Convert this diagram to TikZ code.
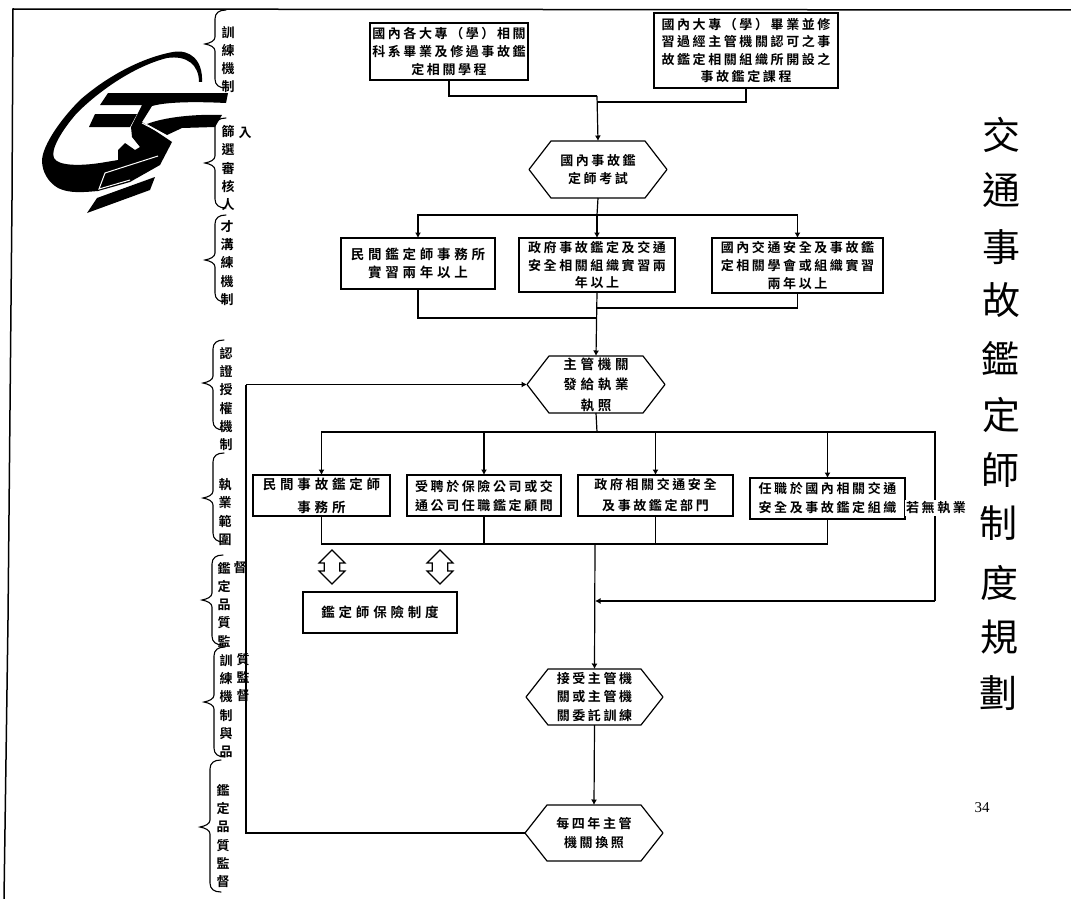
\documentclass[tikz,border=0pt]{standalone}
\usepackage{fontspec}
\usetikzlibrary{arrows.meta,shapes.arrows,calc}
\setmainfont{Liberation Serif}
\newfontfamily\cjk[LetterSpace=20,BoldFont={Noto Sans CJK TC Bold}]{Noto Sans CJK TC}
\newfontfamily\cjkw[LetterSpace=28,BoldFont={Noto Sans CJK TC Bold}]{Noto Sans CJK TC}
\newfontfamily\cjkp{Noto Sans CJK TC Bold}
\newfontfamily\cjkt{Noto Sans CJK TC}
\tikzset{
  every node/.style={inner sep=0pt,outer sep=0pt},
  line/.style={line width=1.2pt,black},
  arr/.style={line,-{Latex[length=5.5pt,width=6pt]}},
  boxn/.style={draw,line width=1.2pt,fill=white,align=center,font=\fontsize{13}{17.6}\cjk\bfseries},
  widebox/.style={boxn,font=\fontsize{13.5}{18.5}\cjkw\bfseries},
  hexn/.style={align=center,font=\fontsize{13}{18.5}\cjk\bfseries},
  hexline/.style={line width=1.2pt,black,line join=round},
  dblarrow/.style={double arrow,draw,line width=1.2pt,rotate=90,minimum width=26pt,minimum height=34pt,
    inner sep=7pt,double arrow head extend=5pt},
  vlabel/.style={align=center,font=\fontsize{13}{18.3}\cjkp},
  titlechar/.style={font=\fontsize{38}{38}\cjkt},
  bracepath/.style={line width=1.1pt,black,line cap=round}
}
\newcommand{\lbrc}[4]{% x, top, mid, bottom
  \draw[bracepath] (#1+11,#2) .. controls (#1+4,#2) and (#1,#2+3) .. (#1,#2+9)
    -- (#1,#3-7) .. controls (#1,#3-3) and (#1-5,#3-1) .. (#1-10,#3)
    .. controls (#1-5,#3+1) and (#1,#3+3) .. (#1,#3+7)
    -- (#1,#4-9) .. controls (#1,#4-3) and (#1+4,#4) .. (#1+11,#4);}
\newcommand{\hexoutline}[1]{% outline on the node's own anchors
  \draw[hexline] ($(#1.north west)+(22,0)$) -- ($(#1.north east)+(-22,0)$) -- (#1.east)
    -- ($(#1.south east)+(-22,0)$) -- ($(#1.south west)+(22,0)$) -- (#1.west) -- cycle;}
\begin{document}
\begin{tikzpicture}[x=1pt,y=-1pt]
\useasboundingbox (0,0) rectangle (1071,899);
\fill[white] (0,0) rectangle (1071,899);

% page frame
\coordinate (ftl) at (13,9);
\coordinate (ftr) at (1071,10);
\coordinate (fbl) at (4,899);
\draw[line width=1.5pt] (fbl) -- (8,620) -- (12,200) -- (ftl) -- (ftr);

% logo
\fill[black] (100,105) -- (108,93) -- (228,93) -- (226,103) .. controls (205,102) and (170,101) .. (152,106)
  -- (142,122) -- (172,142) -- (160,165) -- (130,182) -- (98,191)
  .. controls (85,192) and (70,194) .. (58,188) .. controls (48,182) and (42,172) .. (42,160)
  .. controls (43,145) and (60,120) .. (80,100) .. controls (105,78) and (140,58) .. (173,52)
  .. controls (190,49) and (203,60) .. (202,82) -- (199,82)
  .. controls (199,65) and (187,55) .. (167,58) .. controls (135,66) and (100,90) .. (77,113)
  .. controls (62,130) and (50,150) .. (54,158) .. controls (58,166) and (80,166) .. (100,163)
  -- (118,160) -- (118,150) -- (125,143) -- (135,150) -- (140,147) -- (132,137) -- (131,127) -- (137,115) -- (142,105) -- cycle;
\fill[black] (89,127) -- (95,114) -- (137,114) -- (130,127) -- cycle;
\fill[black] (147,124) .. controls (165,117) and (195,114) .. (222,115) -- (215,127) -- (182,128) -- (167,135) -- cycle;
\fill[black] (87,213) -- (97,198) -- (155,177) -- (150,190) -- cycle;
\draw[white,line width=1pt] (142,123) -- (167,136);
\draw[white,line width=1pt] (158,156) -- (105,173) -- (99,189) -- (130,180);

% braces
\lbrc{215}{10}{44}{88}
\lbrc{215}{118}{163}{208}
\lbrc{215}{215}{260}{302}
\lbrc{213}{340}{383}{430}
\lbrc{213}{453}{498}{542}
\lbrc{212}{555}{600}{645}
\lbrc{214}{647}{702}{757}
\lbrc{210}{760}{827}{892}

% side labels
\node[vlabel] (v1) at (228,59.5) {訓\\練\\機\\制};
\node[vlabel] (v2) at (228,168) {篩\\選\\審\\核\\人};
\node[vlabel] (v2b) at (245,133) {入};
\node[vlabel] (v3) at (227,263) {才\\溝\\練\\機\\制};
\node[vlabel] (v4) at (226,399) {認\\證\\授\\權\\機\\制};
\node[vlabel] (v5) at (225,512) {執\\業\\範\\圍};
\node[vlabel] (v6) at (224,604.5) {鑑\\定\\品\\質\\監};
\node[vlabel] (v6b) at (240,568) {督};
\node[vlabel] (v7) at (226,706) {訓\\練\\機\\制\\與\\品};
\node[vlabel] (v7b) at (243,677.5) {質\\監\\督};
\node[vlabel] (v8) at (223,836) {鑑\\定\\品\\質\\監\\督};

% flow nodes
\node[boxn,minimum width=158pt,minimum height=57pt] (src1) at (449,51.5) {國內各大專（學）相關\\科系畢業及修過事故鑑\\定相關學程};
\node[boxn,minimum width=184pt,minimum height=75pt] (src2) at (746,50.5) {國內大專（學）畢業並修\\習過經主管機關認可之事\\故鑑定相關組織所開設之\\事故鑑定課程};
\node[hexn,minimum width=138pt,minimum height=57pt] (exam) at (598,169.5) {國內事故鑑\\定師考試};
\node[widebox,minimum width=154pt,minimum height=51pt] (intA) at (418,263.5) {民間鑑定師事務所\\實習兩年以上};
\node[boxn,minimum width=156pt,minimum height=54pt] (intB) at (597,265) {政府事故鑑定及交通\\安全相關組織實習兩\\年以上};
\node[boxn,minimum width=171pt,minimum height=55pt] (intC) at (797.5,265.5) {國內交通安全及事故鑑\\定相關學會或組織實習\\兩年以上};
\node[hexn,minimum width=138pt,minimum height=57pt,font=\fontsize{13.5}{20.5}\cjkw\bfseries] (lic) at (596,384.5) {主管機關\\發給執業\\執照};
\node[boxn,minimum width=137pt,minimum height=41pt,font=\fontsize{13.5}{23}\cjkw\bfseries] (jobA) at (321.5,495.5) {民間事故鑑定師\\事務所};
\node[boxn,minimum width=154pt,minimum height=41pt,font=\fontsize{13}{19}\cjk\bfseries] (jobB) at (484,495.5) {受聘於保險公司或交\\通公司任職鑑定顧問};
\node[boxn,minimum width=155pt,minimum height=41pt,font=\fontsize{13}{21}\cjk\bfseries] (jobC) at (655.5,495.5) {政府相關交通安全\\及事故鑑定部門};
\node[boxn,minimum width=155pt,minimum height=41pt,font=\fontsize{13}{19}\cjk\bfseries] (jobD) at (827.5,498.5) {任職於國內相關交通\\安全及事故鑑定組織};
\node[widebox,minimum width=154pt,minimum height=41pt] (ins) at (380,612.5) {鑑定師保險制度};
\node[dblarrow] (da1) at (332,567) {};
\node[dblarrow] (da2) at (440,567) {};
\node[hexn,minimum width=137pt,minimum height=56pt] (train) at (594.5,697) {接受主管機\\關或主管機\\關委託訓練};
\node[hexn,minimum width=138pt,minimum height=56pt] (renew) at (594,833) {每四年主管\\機關換照};
\hexoutline{exam}
\hexoutline{lic}
\hexoutline{train}
\hexoutline{renew}

% connector junctions
\coordinate (j1) at (597,96);
\coordinate (j2) at (597,102);
\coordinate (t1) at (597,215);
\coordinate (j3) at (597,318);
\coordinate (j4) at (597,308);
\coordinate (j5) at (597,432);
\coordinate (j6) at (935,432);
\coordinate (j7) at (595,544);
\coordinate (j8) at (595,601);
\coordinate (j9) at (935,601);
\coordinate (l1) at (246,384.5);
\coordinate (l2) at (246,833);

% connectors
\draw[line] (src1.south) |- (j1);
\draw[line] (src2.south) |- (j2);
\draw[arr] (j1) -- (exam.north);
\draw[line] (exam.south) -- (t1);
\draw[arr] (t1) -| (intA.north);
\draw[arr] (t1) -- (intB.north);
\draw[arr] (t1) -| (intC.north);
\draw[line] (intA.south) |- (j3);
\draw[line] (intC.south) |- (j4);
\draw[arr] (intB.south) -- (lic.north);
\draw[line] (lic.south) -- (j5);
\draw[arr] (j5) -| (jobA.north);
\draw[arr] (j5) -| (jobB.north);
\draw[arr] (j5) -| (jobC.north);
\draw[arr] (j5) -| (jobD.north);
\draw[line] (j5) -- (j6) -- (j9);
\draw[line] (jobA.south) |- (j7);
\draw[line] (jobB.south) |- (j7);
\draw[line] (jobC.south) |- (j7);
\draw[line] (jobD.south) |- (j7);
\draw[arr] (j7) -- (train.north);
\draw[arr] (j9) -- (j8);
\draw[arr] (train.south) -- (renew.north);
\draw[line] (renew.west) -- (l2) -- (l1);
\draw[arr] (l1) -- (lic.west);

\node[fill=white,inner xsep=1pt,inner ysep=2pt,font=\fontsize{13}{14}\cjk\bfseries] (noj) at (936,508) {若無執業};

% title
\node[titlechar] (tt1) at (1001,135) {交};
\node[titlechar] (tt2) at (1001,190) {通};
\node[titlechar] (tt3) at (1001,247) {事};
\node[titlechar] (tt4) at (1001,300) {故};
\node[titlechar] (tt5) at (1000,358) {鑑};
\node[titlechar] (tt6) at (1001,415) {定};
\node[titlechar] (tt7) at (1000,470) {師};
\node[titlechar] (tt8) at (998,523) {制};
\node[titlechar] (tt9) at (999,583) {度};
\node[titlechar] (tt10) at (999,637) {規};
\node[titlechar] (tt11) at (998,693) {劃};
\node[font=\fontsize{15}{15}\selectfont] (pg) at (982,808) {34};
\end{tikzpicture}
\end{document}
